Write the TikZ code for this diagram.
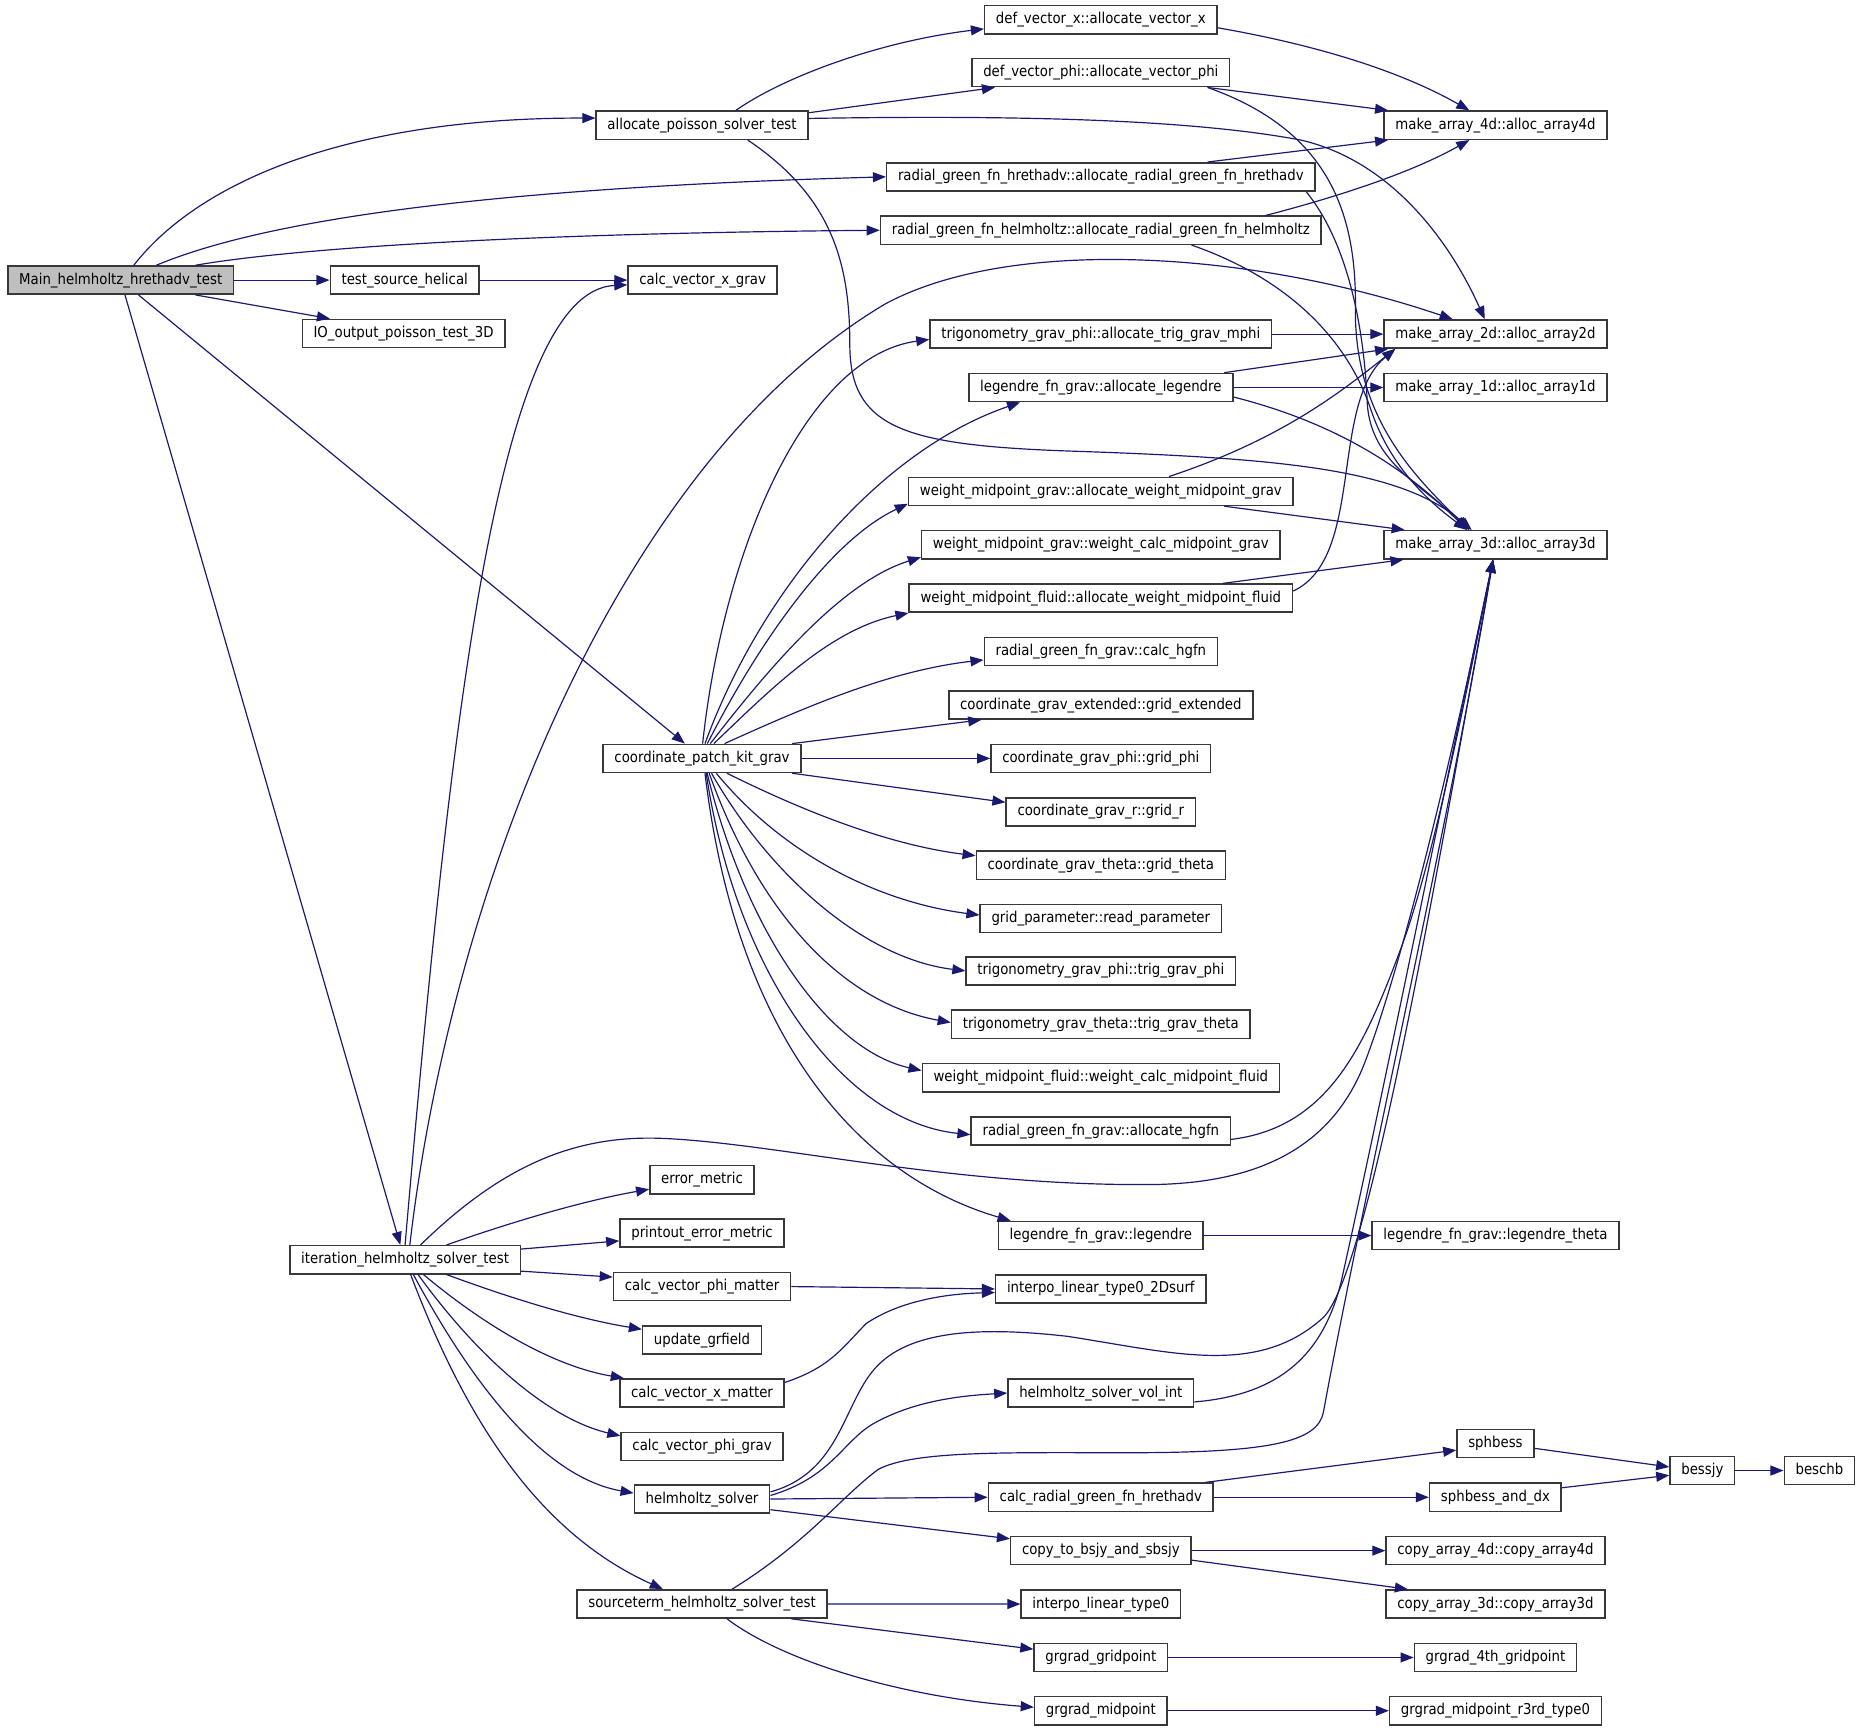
\documentclass[tikz,border=0pt]{standalone}
\usepackage{fontspec}
\setmainfont[FakeStretch=0.89]{DejaVu Sans}
\usepackage{xcolor}
\usepackage{tikz}
\usetikzlibrary{arrows.meta}
\definecolor{edgeblue}{HTML}{191970}
\definecolor{rootgray}{HTML}{BFBFBF}
\tikzset{>={Triangle[length=11pt,width=8.4pt]}}
\tikzstyle{fn} = [rectangle, draw=black!78, line width=1.3pt, fill=white, font=\fontsize{12.6pt}{14pt}\selectfont, inner xsep=9.5pt, inner ysep=0pt, minimum height=23.7pt, text height=9.8pt, text depth=3pt]
\tikzstyle{root} = [fn, fill=rootgray]
\tikzstyle{call} = [->, draw=edgeblue, line width=1pt]

\begin{document}
\begin{tikzpicture}[x=1pt, y=-1pt]
\useasboundingbox (0, 0) rectangle (1568, 1458.5);
% rank 0 and 1
\node [root] (main) at (101.7, 236) {Main\_helmholtz\_hrethadv\_test};
\node [fn] (tsh) at (341, 236) {test\_source\_helical};
\node [fn] (ioo) at (340, 281) {IO\_output\_poisson\_test\_3D};
\node [fn] (ihs) at (341.3, 1061.4) {iteration\_helmholtz\_solver\_test};
% rank 2
\node [fn] (aps) at (591.5, 105.5) {allocate\_poisson\_solver\_test};
\node [fn] (cvxg) at (592, 236) {calc\_vector\_x\_grav};
\node [fn] (cpk) at (591.5, 639) {coordinate\_patch\_kit\_grav};
\node [fn] (erm) at (591.5, 994) {error\_metric};
\node [fn] (pem) at (591.5, 1039) {printout\_error\_metric};
\node [fn] (cvpm) at (591.5, 1084) {calc\_vector\_phi\_matter};
\node [fn] (upd) at (591.5, 1129) {update\_grfield};
\node [fn] (cvxm) at (591.5, 1173.7) {calc\_vector\_x\_matter};
\node [fn] (cvpg) at (591.5, 1218.8) {calc\_vector\_phi\_grav};
\node [fn] (hs) at (591.5, 1263) {helmholtz\_solver};
\node [fn] (sts) at (591.5, 1351.4) {sourceterm\_helmholtz\_solver\_test};
% rank 3
\node [fn] (dvx) at (927.5, 16.6) {def\_vector\_x::allocate\_vector\_x};
\node [fn] (dvp) at (927.5, 61.2) {def\_vector\_phi::allocate\_vector\_phi};
\node [fn] (rgh) at (927.5, 149) {radial\_green\_fn\_hrethadv::allocate\_radial\_green\_fn\_hrethadv};
\node [fn] (rgz) at (927.5, 194) {radial\_green\_fn\_helmholtz::allocate\_radial\_green\_fn\_helmholtz};
\node [fn] (tgm) at (927.5, 281.5) {trigonometry\_grav\_phi::allocate\_trig\_grav\_mphi};
\node [fn] (lal) at (927.5, 326.5) {legendre\_fn\_grav::allocate\_legendre};
\node [fn] (wag) at (927.5, 414) {weight\_midpoint\_grav::allocate\_weight\_midpoint\_grav};
\node [fn] (wcg) at (927.5, 459) {weight\_midpoint\_grav::weight\_calc\_midpoint\_grav};
\node [fn] (waf) at (927.5, 504) {weight\_midpoint\_fluid::allocate\_weight\_midpoint\_fluid};
\node [fn] (chg) at (927.5, 549) {radial\_green\_fn\_grav::calc\_hgfn};
\node [fn] (gex) at (927.5, 594) {coordinate\_grav\_extended::grid\_extended};
\node [fn] (gph) at (927.5, 639) {coordinate\_grav\_phi::grid\_phi};
\node [fn] (grr) at (927.5, 684) {coordinate\_grav\_r::grid\_r};
\node [fn] (gth) at (927.5, 729) {coordinate\_grav\_theta::grid\_theta};
\node [fn] (rpar) at (927.5, 774) {grid\_parameter::read\_parameter};
\node [fn] (tgp) at (927.5, 818) {trigonometry\_grav\_phi::trig\_grav\_phi};
\node [fn] (tgt) at (927.5, 863) {trigonometry\_grav\_theta::trig\_grav\_theta};
\node [fn] (wcf) at (927.5, 908) {weight\_midpoint\_fluid::weight\_calc\_midpoint\_fluid};
\node [fn] (ahg) at (927.5, 953) {radial\_green\_fn\_grav::allocate\_hgfn};
\node [fn] (leg) at (927.5, 1041) {legendre\_fn\_grav::legendre};
\node [fn] (i2d) at (927.5, 1086) {interpo\_linear\_type0\_2Dsurf};
\node [fn] (hsv) at (927.5, 1173.7) {helmholtz\_solver\_vol\_int};
\node [fn] (crg) at (927.5, 1261.5) {calc\_radial\_green\_fn\_hrethadv};
\node [fn] (cpt) at (927.5, 1306.5) {copy\_to\_bsjy\_and\_sbsjy};
\node [fn] (il0) at (927.5, 1351.5) {interpo\_linear\_type0};
\node [fn] (ggp) at (927.5, 1396.5) {grgrad\_gridpoint};
\node [fn] (gmp) at (927.5, 1441.4) {grgrad\_midpoint};
% rank 4 and beyond
\node [fn] (ma4) at (1260, 105.5) {make\_array\_4d::alloc\_array4d};
\node [fn] (ma2) at (1260, 281.5) {make\_array\_2d::alloc\_array2d};
\node [fn] (ma1) at (1260, 326.5) {make\_array\_1d::alloc\_array1d};
\node [fn] (ma3) at (1260, 459) {make\_array\_3d::alloc\_array3d};
\node [fn] (let) at (1260, 1041) {legendre\_fn\_grav::legendre\_theta};
\node [fn] (sph) at (1260, 1216.3) {sphbess};
\node [fn] (sdx) at (1260, 1261.5) {sphbess\_and\_dx};
\node [fn] (ca4) at (1260, 1306.5) {copy\_array\_4d::copy\_array4d};
\node [fn] (ca3) at (1260, 1351.5) {copy\_array\_3d::copy\_array3d};
\node [fn] (g4) at (1260, 1396.5) {grgrad\_4th\_gridpoint};
\node [fn] (gm3) at (1260, 1441.4) {grgrad\_midpoint\_r3rd\_type0};
\node [fn] (bsj) at (1434.3, 1239) {bessjy};
\node [fn] (bsc) at (1533, 1239) {beschb};

% calls of the main program
\draw [call] ([xshift=11]main.north) .. controls (170, 150) and (300, 99) .. ([yshift=6]aps.west);
\draw [call] ([xshift=30]main.north) .. controls (200, 195) and (350, 160) .. (rgh.west);
\draw [call] ([xshift=63]main.north) .. controls (230, 212) and (400, 197) .. (rgz.west);
\draw [call] (main) to (tsh);
\draw [call] ([xshift=63]main.south) to ([xshift=-62]ioo.north);
\draw [call] ([xshift=15]main.south) to ([xshift=-14.5]cpk.north);
\draw [call] ([xshift=3.6]main.south) to ([xshift=-4]ihs.north);
\draw [call] (tsh) to (cvxg);

% allocate_poisson_solver_test
\draw [call] ([xshift=28.5]aps.north) .. controls (660, 65) and (740, 35) .. ([yshift=-7.7]dvx.west);
\draw [call] ([yshift=10.5]aps.east) to ([xshift=20]dvp.south west);
\draw [call] ([yshift=5.7]aps.east) .. controls (850, 97) and (1000, 100) .. (1096, 118) .. controls (1170, 135) and (1220, 200) .. ([xshift=-9]ma2.north);
\draw [call] ([xshift=38.5]aps.south) .. controls (700, 165) and (716, 220) .. (716, 290) .. controls (716, 360) and (760, 375) .. (900, 380) .. controls (1080, 386) and (1180, 395) .. ([xshift=-20]ma3.north);
\draw [call] ([yshift=-6.8]dvx.east) .. controls (1110, 38) and (1180, 60) .. ([xshift=-22]ma4.north);
\draw [call] ([xshift=90]dvp.south) to ([xshift=4]ma4.north west);
\draw [call] ([xshift=90]dvp.south) .. controls (1120, 110) and (1143, 180) .. (1142, 260) .. controls (1141, 350) and (1190, 400) .. ([xshift=-22]ma3.north);
\draw [call] ([xshift=90]rgh.north) to ([xshift=4]ma4.south west);
\draw [call] ([xshift=173]rgh.south) .. controls (1140, 210) and (1150, 290) .. (1152, 340) .. controls (1155, 390) and (1200, 410) .. ([xshift=-22]ma3.north);
\draw [call] ([xshift=139]rgz.north) .. controls (1130, 165) and (1190, 145) .. ([xshift=-22]ma4.south);
\draw [call] ([xshift=76.5]rgz.south) .. controls (1100, 240) and (1140, 300) .. (1155, 345) .. controls (1170, 390) and (1200, 420) .. ([xshift=-24]ma3.north);

% coordinate_patch_kit_grav
\draw [call] ([xshift=0.5]cpk.north) .. controls (610, 460) and (680, 300) .. ([yshift=-4.5]tgm.west);
\draw [call] ([xshift=2.5]cpk.north) .. controls (640, 500) and (740, 380) .. ([xshift=-68]lal.south);
\draw [call] ([xshift=4.5]cpk.north) .. controls (640, 540) and (700, 455) .. ([yshift=2]wag.south west);
\draw [call] ([xshift=7]cpk.north) .. controls (650, 560) and (710, 490) .. ([yshift=2]wcg.south west);
\draw [call] ([xshift=10]cpk.north) .. controls (650, 580) and (700, 530) .. (waf.south west);
\draw [call] ([xshift=19]cpk.north) .. controls (680, 595) and (750, 565) .. ([yshift=-7]chg.west);
\draw [call] ([xshift=76]cpk.north) to ([xshift=28]gex.south west);
\draw [call] (cpk) to (gph);
\draw [call] ([xshift=76]cpk.south) to ([yshift=8]grr.west);
\draw [call] ([xshift=21]cpk.south) .. controls (680, 685) and (750, 712) .. ([yshift=8]gth.west);
\draw [call] ([xshift=12]cpk.south) .. controls (660, 720) and (740, 760) .. ([yshift=3]rpar.west);
\draw [call] ([xshift=8]cpk.south) .. controls (650, 740) and (730, 808) .. (tgp.west);
\draw [call] ([xshift=6]cpk.south) .. controls (640, 770) and (710, 845) .. ([yshift=1.5]tgt.west);
\draw [call] ([xshift=4.3]cpk.south) .. controls (630, 790) and (700, 885) .. ([yshift=6]wcf.west);
\draw [call] ([xshift=3.5]cpk.south) .. controls (620, 820) and (710, 945) .. ([yshift=-3]ahg.west);
\draw [call] ([xshift=2.5]cpk.south) .. controls (620, 870) and (720, 990) .. ([xshift=-76]leg.north);

% into the make_array routines
\draw [call] (tgm) to (ma2);
\draw [call] ([xshift=104]lal.north) to ([xshift=4]ma2.south west);
\draw [call] (lal) to (ma1);
\draw [call] ([yshift=-8]lal.east) .. controls (1120, 355) and (1180, 390) .. ([xshift=-24]ma3.north);
\draw [call] ([xshift=57.5]wag.north) .. controls (1080, 370) and (1130, 330) .. ([xshift=10]ma2.south west);
\draw [call] ([xshift=104]wag.south) to ([xshift=18]ma3.north west);
\draw [call] ([yshift=6]waf.east) .. controls (1150, 470) and (1120, 340) .. ([xshift=10]ma2.south west);
\draw [call] ([xshift=103]waf.north) to ([xshift=17]ma3.south west);
\draw [call] ([yshift=-7]ahg.east) .. controls (1120, 950) and (1150, 880) .. (1180, 800) .. controls (1210, 720) and (1240, 560) .. ([xshift=-2]ma3.south);
\draw [call] (leg) to (let);

% iteration_helmholtz_solver_test
\draw [call] (ihs.north) .. controls (380, 600) and (420, 245) .. ([yshift=-4]cvxg.west);
\draw [call] ([xshift=4]ihs.north) .. controls (380, 750) and (520, 390) .. (746, 256) .. controls (850, 200) and (1050, 210) .. ([xshift=-36]ma2.north);
\draw [call] ([xshift=13]ihs.north) .. controls (420, 985) and (480, 957) .. (554, 959) .. controls (650, 962) and (800, 1000) .. (974, 998) .. controls (1070, 996) and (1125, 960) .. (1150, 895) .. controls (1190, 790) and (1240, 560) .. ([xshift=-2]ma3.south);
\draw [call] ([xshift=35]ihs.north) .. controls (430, 1030) and (490, 1012) .. ([yshift=-8]erm.west);
\draw [call] ([yshift=9]ihs.east) to ([yshift=-6.5]pem.west);
\draw [call] ([yshift=-9.6]ihs.east) to ([yshift=8]cvpm.west);
\draw [call] ([xshift=35]ihs.south) .. controls (420, 1090) and (480, 1110) .. ([yshift=9]upd.west);
\draw [call] ([xshift=15.5]ihs.south) .. controls (400, 1110) and (460, 1150) .. ([xshift=4]cvxm.north west);
\draw [call] ([xshift=11]ihs.south) .. controls (400, 1140) and (460, 1195) .. ([yshift=9]cvpg.west);
\draw [call] ([xshift=7]ihs.south) .. controls (400, 1170) and (460, 1245) .. ([yshift=5]hs.west);
\draw [call] ([xshift=4.7]ihs.south) .. controls (390, 1190) and (450, 1290) .. ([xshift=-33]sts.north);
\draw [call] (cvpm.east) to (i2d.west);
\draw [call] ([yshift=9]cvxm.east) .. controls (700, 1152) and (710, 1135) .. (730, 1115) .. controls (760, 1095) and (800, 1090) .. ([yshift=-3]i2d.west);

% helmholtz_solver
\draw [call] ([yshift=6]hs.east) .. controls (710, 1240) and (710, 1180) .. (740, 1150) .. controls (770, 1120) and (830, 1118) .. (900, 1126) .. controls (990, 1140) and (1060, 1160) .. (1115, 1110) .. controls (1150, 1075) and (1200, 800) .. ([xshift=-2]ma3.south);
\draw [call] ([yshift=3]hs.east) .. controls (700, 1245) and (710, 1215) .. (735, 1200) .. controls (770, 1180) and (810, 1176) .. (hsv.west);
\draw [call] (hs.east) to (crg.west);
\draw [call] ([yshift=-9]hs.east) to ([yshift=10]cpt.west);
\draw [call] ([yshift=-7.5]hsv.east) .. controls (1080, 1175) and (1115, 1140) .. (1130, 1080) .. controls (1170, 900) and (1220, 650) .. ([xshift=-2]ma3.south);
\draw [call] ([xshift=88]crg.north) to ([yshift=-5.5]sph.west);
\draw [call] (crg) to (sdx);
\draw [call] ([yshift=-4]sph.east) to ([yshift=3]bsj.west);
\draw [call] ([yshift=8]sdx.east) to ([yshift=-4]bsj.west);
\draw [call] (bsj) to (bsc);
\draw [call] (cpt) to (ca4);
\draw [call] ([yshift=-8]cpt.east) to ([xshift=19]ca3.north west);

% sourceterm_helmholtz_solver_test
\draw [call] ([xshift=25.4]sts.north) .. controls (680, 1300) and (710, 1260) .. (740, 1238) .. controls (770, 1222) and (850, 1224) .. (950, 1224) .. controls (1070, 1224) and (1110, 1215) .. (1115, 1190) .. controls (1150, 1000) and (1220, 700) .. ([xshift=-2]ma3.south);
\draw [call] (sts) to (il0);
\draw [call] ([xshift=75]sts.south) to ([yshift=7]ggp.west);
\draw [call] ([xshift=21]sts.south) .. controls (660, 1400) and (760, 1430) .. ([yshift=3]gmp.west);
\draw [call] (ggp) to (g4);
\draw [call] (gmp) to (gm3);
\end{tikzpicture}
\end{document}
